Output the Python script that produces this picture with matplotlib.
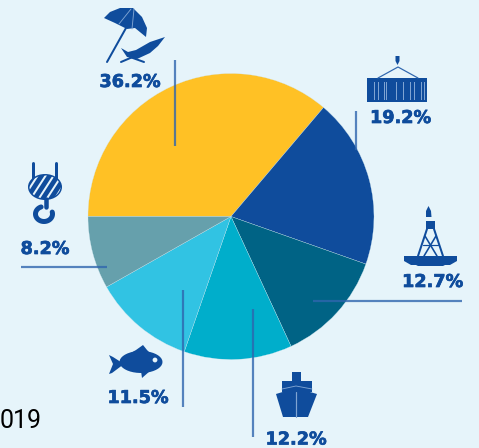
import numpy as np
import matplotlib
matplotlib.use("Agg")
import matplotlib.pyplot as plt
import matplotlib.patheffects as pe
from matplotlib.patches import Polygon, Circle, Ellipse, Rectangle

shares = [36.2, 19.2, 12.7, 12.2, 11.5, 8.2]
colors = ["#FFC125", "#0F4C9C", "#006385", "#00AECB", "#31C3E3", "#66A0AC"]
labels = ["36.2%", "19.2%", "12.7%", "12.2%", "11.5%", "8.2%"]
year_text = "019"

W, H = 479, 448
BG = "#E6F4FA"
BLUE = "#0F4C9C"
LINE = "#2F66AE"

fig = plt.figure(figsize=(W / 100, H / 100), dpi=100, facecolor=BG)
pax = fig.add_axes([0, 0, 1, 1], zorder=0)
pax.pie(shares, colors=colors, startangle=180, counterclock=False,
        center=(231, H - 216.5), radius=143,
        wedgeprops=dict(linewidth=0.2, edgecolor="#CFE6EE"), frame=True)
pax.set_xlim(0, W)
pax.set_ylim(0, H)
pax.axis("off")

ax = fig.add_axes([0, 0, 1, 1], zorder=1)
ax.set_xlim(0, W)
ax.set_ylim(H, 0)
ax.axis("off")
ax.patch.set_alpha(0)


def px(v):
    return v * 72 / 100


# leader lines
for (x0, y0, x1, y1) in [(175, 60, 175, 146), (356, 111, 356, 150), (313, 301.5, 462, 301.5),
                         (253, 309, 253, 437), (183, 290, 183, 407), (21, 267, 107, 267)]:
    ax.plot([x0, x1], [y0, y1], color=LINE, lw=px(2.2), alpha=0.8, solid_capstyle="butt")

# percentage labels
pos = [(130, 82), (400.5, 118), (432.5, 282), (296, 439.5), (138, 398), (45, 249)]
for s, (x, y) in zip(labels, pos):
    ax.text(x, y, s, color=BLUE, fontsize=12.7, fontweight="bold", ha="center", va="center",
            family="DejaVu Sans",
            path_effects=[pe.withStroke(linewidth=0.5, foreground=BLUE)])

ax.text(42, 421, year_text, color="black", fontsize=18, ha="right", va="center", family="Roboto")


def poly(pts, **k):
    k.setdefault("color", BLUE)
    k.setdefault("lw", 0)
    ax.add_patch(Polygon(pts, closed=True, **k))


def line(pts, w=1.5, c=BLUE):
    p = np.array(pts)
    ax.plot(p[:, 0], p[:, 1], color=c, lw=px(w), solid_capstyle="round")


# umbrella + deck chair
poly([(104, 18), (110, 12), (120, 8), (133, 8), (142, 17), (147, 28), (146, 37), (135, 28),
      (127, 29), (115, 23)])
line([(126, 28), (107, 62)], 2)
line([(131, 9), (119, 24)], 0.9, "#7FA4D2")
line([(134, 9), (132, 29)], 0.9, "#7FA4D2")
poly([(165, 37), (150, 42), (136, 50), (128, 52), (121, 48), (127, 57), (137, 59), (150, 53), (158, 46)])
line([(121, 62), (135, 56)], 2)
line([(130, 57), (144, 62)], 2)

# container
line([(378, 78), (398, 67), (418, 78)], 1.2, LINE)
poly([(395.5, 56), (399.5, 56), (399.5, 61), (397.5, 65), (395.5, 61)])
ax.add_patch(Rectangle((367, 78), 60, 24, color=BLUE, lw=0))
for x in [374, 378, 384, 386, 396, 403, 410, 414, 421, 424]:
    ax.plot([x, x], [82, 99], color="#7FA4D2", lw=px(1))

# offshore platform
poly([(426, 217), (426, 211), (428.5, 206), (431, 211), (431.5, 217)])
ax.add_patch(Rectangle((426, 221), 9, 8, color=BLUE, lw=0))
line([(427, 229), (418, 256)], 2)
line([(434, 229), (443, 256)], 2)
line([(425, 236), (437, 256)], 1.6)
line([(436, 236), (424, 256)], 1.6)
line([(423, 245), (438, 245)], 1.2)
poly([(404, 256), (457, 256), (457, 261), (450, 265), (445, 265), (443, 266), (418, 266),
      (416, 265), (411, 265), (404, 261)])

# ship
ax.add_patch(Rectangle((292, 372), 9, 9, color=BLUE, lw=0))
ax.add_patch(Rectangle((282, 381), 30, 11, color=BLUE, lw=0))
poly([(276, 394), (296, 388), (317, 394), (308, 417), (283, 417)])
line([(296.5, 392), (296.5, 417)], 1.2, "#7FA4D2")
line([(282, 389), (296, 386), (312, 389)], 0.9, "#7FA4D2")

# fish
th = np.linspace(0, 2 * np.pi, 40)
poly(list(zip(141 + 21.5 * np.cos(th), 362 + 11 * np.sin(th))))
poly([(127, 355), (136, 350), (143, 345), (147, 350), (153, 356)])
poly([(124, 364), (112, 373), (109, 374), (113, 364), (109, 355), (113, 357)])
poly([(141, 371), (142, 378), (150, 371)])
ax.add_patch(Circle((155, 360), 2.4, color=BG, lw=0))

# hook
line([(33, 163), (33, 180)], 3)
line([(56, 163), (56, 180)], 3)
ax.add_patch(Ellipse((45, 187), 34, 26, color=BLUE, lw=0))
clip = Ellipse((45, 187), 31, 23, transform=ax.transData)
for d in [-18, -10, -2, 6, 14, 22]:
    ln, = ax.plot([30 + d, 50 + d], [203, 172], color=BG, lw=px(2))
    ln.set_clip_path(clip)
t = np.radians(np.linspace(250, -15, 40))
ax.plot(44 + 8.5 * np.cos(t), 214 + 7.5 * np.sin(t), color=BLUE, lw=px(5), solid_capstyle="round")
line([(46, 199), (46, 207)], 4.5)

fig.savefig("out.png", dpi=100, facecolor=BG)
